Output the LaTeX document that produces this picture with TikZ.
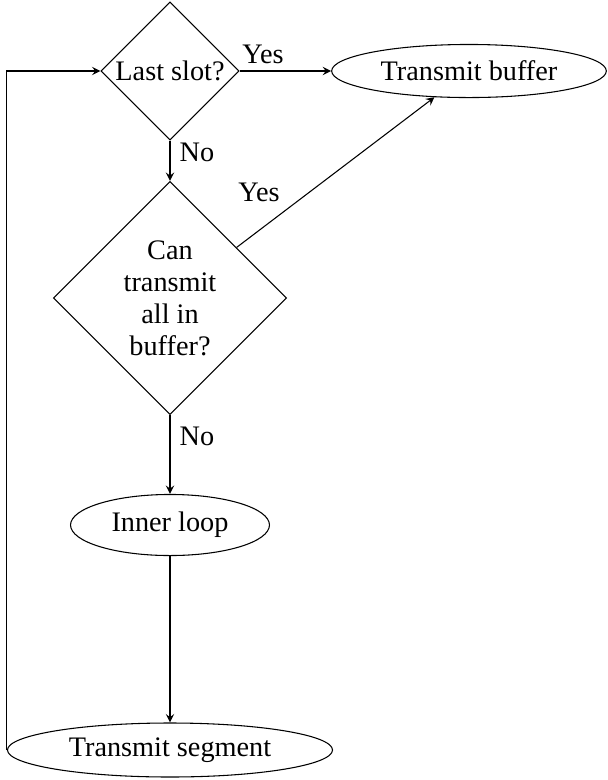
\documentclass[tikz,border=0pt]{standalone}
\usepackage{fontspec}
\setmainfont{Liberation Serif}
\usetikzlibrary{shapes.geometric}

\begin{document}
\begin{tikzpicture}[x=0.375pt, y=-0.375pt, >=stealth,
  font=\fontsize{10.6pt}{12pt}\selectfont,
  decision/.style={draw, diamond, inner sep=0pt, align=center},
  terminal/.style={draw, ellipse, inner sep=0pt}]
\useasboundingbox (0, 0) rectangle (608, 780);
\node[decision, minimum size=51.75pt] (slot) at (170, 71) {Last slot?};
\node[terminal, minimum width=103pt, minimum height=19.9pt] (buffer) at (469, 71) {Transmit buffer};
\node[decision, minimum size=87.4pt] (canall) at (170, 298) {Can\\transmit\\all in\\buffer?};
\node[terminal, minimum width=74.6pt, minimum height=22.9pt] (inner) at (170, 525) {Inner loop};
\node[terminal, minimum width=121.9pt, minimum height=20.25pt] (segment) at (170, 750) {Transmit segment};
\draw[->] (slot.east) -- (buffer.west);
\draw[->] (slot.south) -- (canall.north);
\draw[->] (canall) -- (buffer);
\draw[->] (canall.south) -- (inner.north);
\draw[->] (inner.south) -- (segment.north);
\draw[->] (segment.west) |- (slot.west);
\node (yes1) at (263, 54) {Yes};
\node (no1) at (197, 152) {No};
\node (yes2) at (259, 192) {Yes};
\node (no2) at (197, 436) {No};
\end{tikzpicture}
\end{document}
